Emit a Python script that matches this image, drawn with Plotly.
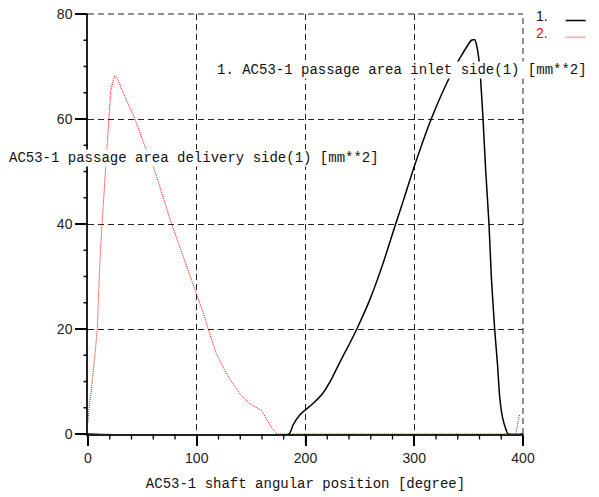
import plotly.graph_objects as go

# Shaft angle [degree] and passage area [mm**2], delivery side (curve 2)
delivery_angle = [0, 1, 3.1, 5.2, 7.1, 8.6, 9.8, 11, 12.9, 14.7, 16.3, 16.9, 19, 20.9,
                  24.5, 27.6, 35.3, 43, 53.7, 61.3, 76.7, 88.9, 99.7, 107.3, 110.3,
                  118, 127.3, 139.5, 148.7, 159.4, 168.6, 173.8, 250, 300, 350,
                  393.3, 395, 397]
delivery_area = [2.3, 5.1, 8.3, 12.1, 16.6, 20.4, 28, 33, 40, 45.8, 50.2, 54, 60.4, 65.5,
                 68.3, 67.4, 63.6, 60.1, 54, 50.2, 40.1, 33.1, 26.7, 22.3, 20.1,
                 15.3, 11.5, 7.7, 5.8, 4.5, 1.3, 0, 0, 0, 0,
                 0, 1.8, 3.8]

# Shaft angle [degree] and passage area [mm**2], inlet side (curve 1)
inlet_angle = [0, 184.8, 188.5, 194.7, 199.3, 206.9, 216.1, 224, 231.4, 240, 247.4, 259,
               271.3, 282.9, 290, 300.4, 315.8, 332.6, 343.4, 352.6, 355.6, 357.7,
               360.2, 363.2, 365.7, 368.7, 370.9, 373.9, 376.5, 378.6, 381.1, 384.1,
               386.2, 400]
inlet_area = [0, 0, 1.7, 3.6, 4.5, 5.8, 7.8, 10.5, 13.6, 17, 20.1, 25.5,
              32.5, 40, 44.5, 51.2, 60.1, 68, 72.1, 75, 75.1, 73.7,
              69.9, 60.1, 50.2, 40.1, 29.9, 20.1, 13.4, 7, 3.2, 1,
              0, 0]

# Axis ranges and tick positions
x_range = [0, 400]
y_range = [0, 80]
x_major = [0, 100, 200, 300, 400]
x_minor = list(range(0, 401, 20))
y_major = [0, 20, 40, 60, 80]
y_minor = list(range(0, 81, 5))

mono = "Liberation Mono, Courier New, monospace"
sans = "Liberation Sans, Arial, sans-serif"
grid_dash = "6px,4px"
axis_color = "#222"

fig = go.Figure()
fig.add_trace(go.Scatter(x=inlet_angle, y=inlet_area, mode="lines", name="1.",
                         line=dict(color="black", width=1.5, shape="spline", smoothing=0.5),
                         showlegend=False))
fig.add_trace(go.Scatter(x=delivery_angle, y=delivery_area, mode="lines", name="2.",
                         line=dict(color="#ff0000", width=1, dash="1px,1px"), showlegend=False))

fig.update_layout(
    xaxis=dict(
        range=x_range, tickmode="array", tickvals=x_major,
        ticktext=[str(v) for v in x_major],
        showline=True, linecolor=axis_color, linewidth=1.5,
        showgrid=True, gridcolor=axis_color, gridwidth=1, griddash=grid_dash,
        zeroline=False, ticks="outside", ticklen=10, tickwidth=1.5, tickcolor="black",
        tickfont=dict(family=sans, size=14, color="#222"),
        title=dict(text="AC53-1 shaft angular position [degree]",
                   font=dict(family=mono, size=14, color="#111"), standoff=14),
    ),
    yaxis=dict(
        range=y_range, tickmode="array", tickvals=y_major,
        ticktext=[str(v) for v in y_major],
        showline=True, linecolor=axis_color, linewidth=1.5,
        showgrid=True, gridcolor=axis_color, gridwidth=1, griddash=grid_dash,
        zeroline=False, ticks="outside", ticklen=11, tickwidth=1.5, tickcolor="black",
        tickfont=dict(family=sans, size=14, color="#222"),
    ),
)

# Tick marks as arrowless annotation stems hanging outside the axes
for v in x_minor:
    length = 11 if v in x_major else 7
    fig.add_annotation(text="", xref="x", yref="paper", x=v, y=0,
                       ax=0, ay=length, axref="pixel", ayref="pixel",
                       showarrow=True, arrowhead=0, arrowwidth=1.3,
                       arrowcolor="black", standoff=0, startstandoff=0)
for v in y_minor:
    length = 11 if v in y_major else 6
    fig.add_annotation(text="", xref="paper", yref="y", x=0, y=v,
                       ax=-length, ay=0, axref="pixel", ayref="pixel",
                       showarrow=True, arrowhead=0, arrowwidth=1.3,
                       arrowcolor="black", standoff=0, startstandoff=0)

# Dashed grid along the top (80) and right (400) edges of the plot area
fig.add_shape(type="line", xref="paper", yref="paper", x0=0, x1=1, y0=1, y1=1,
              line=dict(color=axis_color, width=1, dash=grid_dash))
fig.add_shape(type="line", xref="paper", yref="paper", x0=1, x1=1, y0=0, y1=1,
              line=dict(color=axis_color, width=1, dash=grid_dash))

# Curve labels with an opaque background
fig.add_annotation(text="1. AC53-1 passage area inlet side(1) [mm**2]",
                   xref="paper", yref="paper", x=0.295, y=0.8656,
                   xanchor="left", yanchor="middle", showarrow=False,
                   bgcolor="white", borderpad=0,
                   font=dict(family=mono, size=14, color="#111"))
fig.add_annotation(text="AC53-1 passage area delivery side(1) [mm**2]",
                   xref="paper", yref="paper", x=-0.184, y=0.656,
                   xanchor="left", yanchor="middle", showarrow=False,
                   bgcolor="white", borderpad=0,
                   font=dict(family=mono, size=14, color="#111"))

# Legend at the top right: number, then a line sample
fig.add_annotation(text="1.", xref="paper", yref="paper", x=1.025, y=0.9964,
                   xanchor="left", yanchor="middle", showarrow=False,
                   font=dict(family=sans, size=14, color="#111"))
fig.add_annotation(text="2.", xref="paper", yref="paper", x=1.025, y=0.9536,
                   xanchor="left", yanchor="middle", showarrow=False,
                   font=dict(family=sans, size=14, color="#ff0000"))
fig.add_shape(type="line", xref="paper", yref="paper", x0=1.098, x1=1.144,
              y0=0.9845, y1=0.9845, line=dict(color="black", width=1.5))
fig.add_shape(type="line", xref="paper", yref="paper", x0=1.098, x1=1.144,
              y0=0.9448, y1=0.9448, line=dict(color="#ff0000", width=1, dash="1px,1px"))

fig.update_layout(
    width=599, height=497,
    margin=dict(l=88, r=76, t=14, b=63, autoexpand=False),
    plot_bgcolor="white", paper_bgcolor="white",
    showlegend=False,
)

fig.write_html("out.html")
